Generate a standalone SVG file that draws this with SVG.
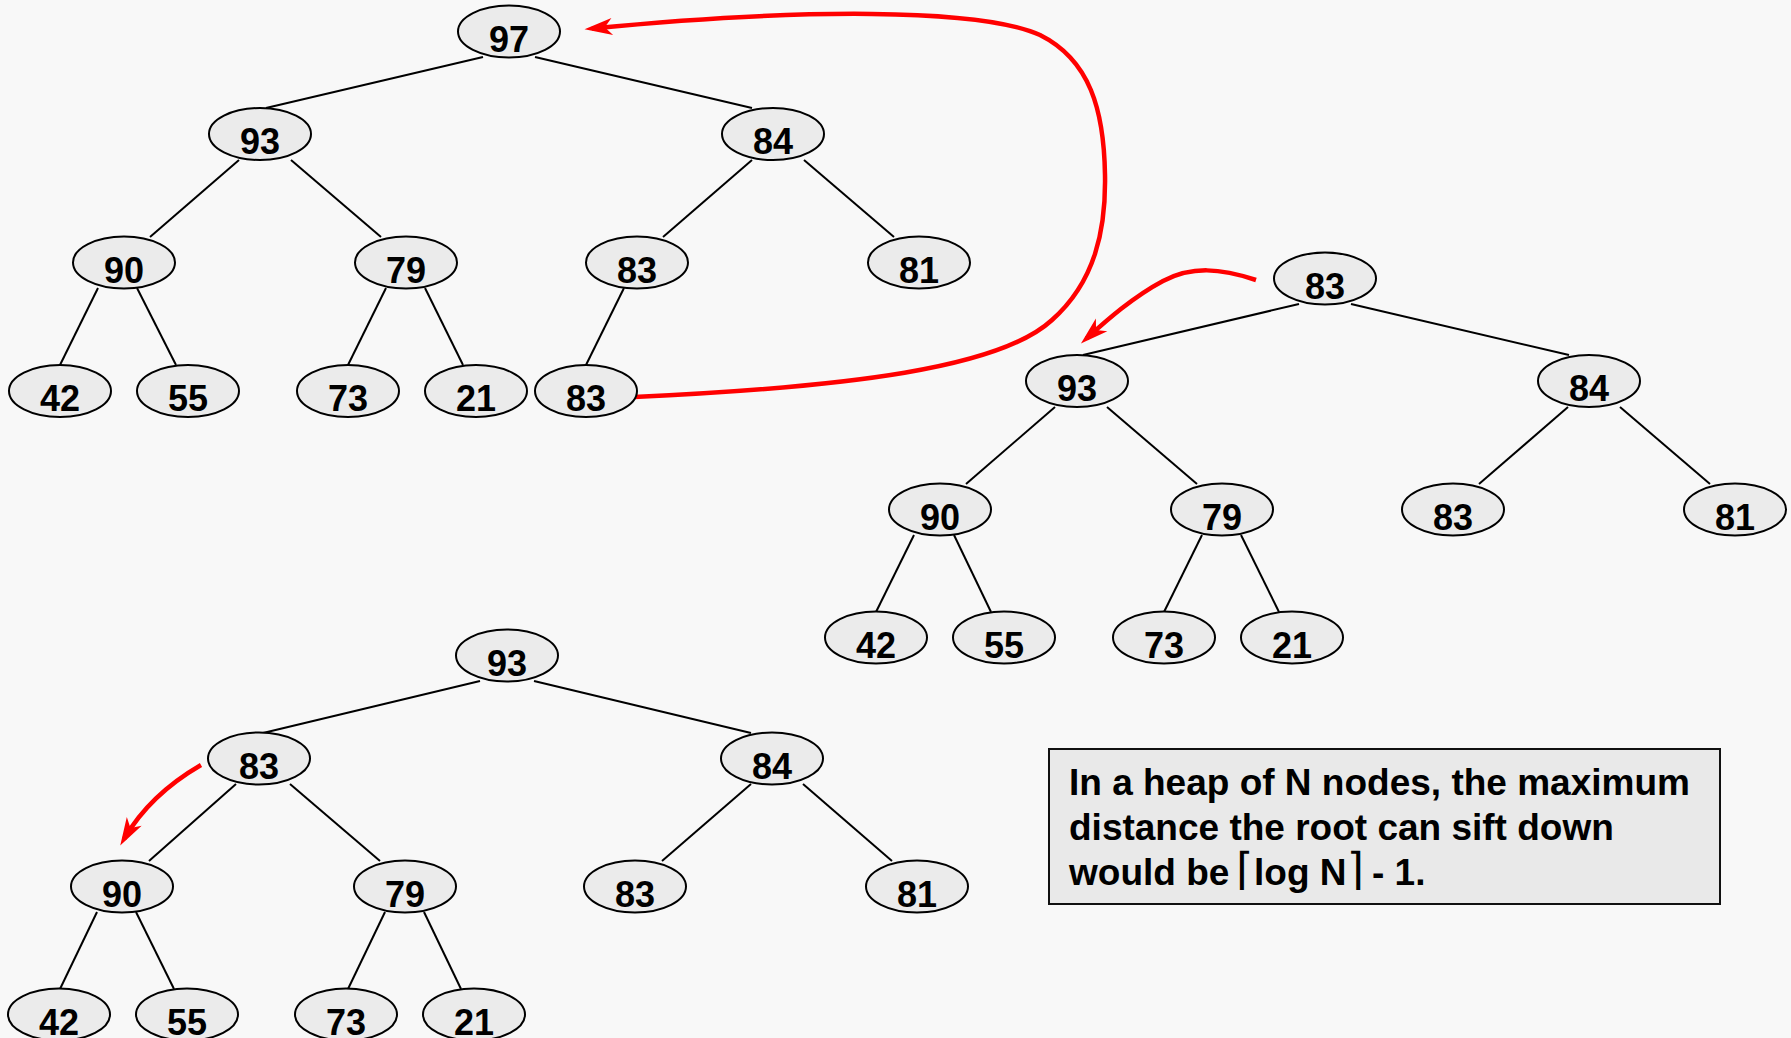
<svg xmlns="http://www.w3.org/2000/svg" width="1791" height="1038" viewBox="0 0 1791 1038">
<defs>
<style>
.n ellipse{fill:#ebebeb;stroke:#000;stroke-width:2}
.n text{font-family:"Liberation Sans",Arial,sans-serif;font-weight:bold;font-size:36px;text-anchor:middle;fill:#000}
.e line{stroke:#000;stroke-width:2}
.r{fill:none;stroke:#ff0000;stroke-width:4.5}
.box{fill:#e9e9e9;stroke:#111;stroke-width:2}
.bt{font-family:"Liberation Sans",Arial,sans-serif;font-weight:bold;font-size:37px;fill:#000}
.br{font-family:"DejaVu Sans",sans-serif;font-weight:normal;font-size:44px}
</style>
<marker id="ah" markerUnits="userSpaceOnUse" markerWidth="30" markerHeight="20" viewBox="0 0 28 18" refX="20" refY="9" orient="auto">
<path d="M1,1 L27,9 L1,17 L8,9 Z" fill="#ff0000"/>
</marker>
</defs>
<rect width="1791" height="1038" fill="#f8f8f8"/>

<g id="connectors" class="e">
<!-- tree 1 -->
<line x1="483" y1="57" x2="266" y2="108"/>
<line x1="535" y1="57" x2="752" y2="108"/>
<line x1="239" y1="160" x2="150" y2="237"/>
<line x1="291" y1="160" x2="381" y2="237"/>
<line x1="752" y1="160" x2="663" y2="237"/>
<line x1="804" y1="160" x2="894" y2="237"/>
<line x1="98" y1="288" x2="60" y2="365"/>
<line x1="137" y1="288" x2="176" y2="365"/>
<line x1="386" y1="288" x2="348" y2="365"/>
<line x1="425" y1="288" x2="463" y2="365"/>
<line x1="624" y1="288" x2="586" y2="365"/>
<!-- tree 2 -->
<line x1="1299" y1="304" x2="1083" y2="355"/>
<line x1="1351" y1="304" x2="1569" y2="355"/>
<line x1="1055" y1="407" x2="966" y2="484"/>
<line x1="1107" y1="407" x2="1197" y2="484"/>
<line x1="1568" y1="407" x2="1479" y2="484"/>
<line x1="1620" y1="407" x2="1710" y2="484"/>
<line x1="914" y1="535" x2="876" y2="612"/>
<line x1="954" y1="535" x2="991" y2="612"/>
<line x1="1202" y1="535" x2="1164" y2="612"/>
<line x1="1241" y1="535" x2="1279" y2="612"/>
<!-- tree 3 -->
<line x1="480" y1="681" x2="263" y2="733"/>
<line x1="534" y1="681" x2="751" y2="733"/>
<line x1="236" y1="784" x2="149" y2="861"/>
<line x1="290" y1="784" x2="380" y2="861"/>
<line x1="751" y1="784" x2="662" y2="861"/>
<line x1="803" y1="784" x2="892" y2="861"/>
<line x1="97" y1="912" x2="60" y2="989"/>
<line x1="136" y1="912" x2="174" y2="989"/>
<line x1="385" y1="912" x2="348" y2="989"/>
<line x1="424" y1="912" x2="461" y2="989"/>
<!-- red arrows -->
<path class="r" marker-end="url(#ah)" d="M634,397 C850,387 1000,368 1052,320 C1095,282 1106,230 1105,175 C1104,110 1090,60 1040,35 C980,8 800,8 592,28.5"/>
<path class="r" marker-end="url(#ah)" d="M1256,280 C1220,268 1192,266 1163,281 C1133,297 1107,320 1086.5,338.5"/>
<path class="r" marker-end="url(#ah)" d="M201,765 C170,783 142,808 124,839"/>
</g>

<g id="t1-97" class="n"><ellipse cx="509" cy="31.5" rx="51" ry="26"/><text x="509" y="51.5">97</text></g>
<g id="t1-93" class="n"><ellipse cx="260" cy="134" rx="51" ry="26"/><text x="260" y="154">93</text></g>
<g id="t1-84" class="n"><ellipse cx="773" cy="134" rx="51" ry="26"/><text x="773" y="154">84</text></g>
<g id="t1-90" class="n"><ellipse cx="124" cy="262.5" rx="51" ry="26"/><text x="124" y="282.5">90</text></g>
<g id="t1-79" class="n"><ellipse cx="406" cy="262.5" rx="51" ry="26"/><text x="406" y="282.5">79</text></g>
<g id="t1-83a" class="n"><ellipse cx="637" cy="262.5" rx="51" ry="26"/><text x="637" y="282.5">83</text></g>
<g id="t1-81" class="n"><ellipse cx="919" cy="262.5" rx="51" ry="26"/><text x="919" y="282.5">81</text></g>
<g id="t1-42" class="n"><ellipse cx="60" cy="391" rx="51" ry="26"/><text x="60" y="411">42</text></g>
<g id="t1-55" class="n"><ellipse cx="188" cy="391" rx="51" ry="26"/><text x="188" y="411">55</text></g>
<g id="t1-73" class="n"><ellipse cx="348" cy="391" rx="51" ry="26"/><text x="348" y="411">73</text></g>
<g id="t1-21" class="n"><ellipse cx="476" cy="391" rx="51" ry="26"/><text x="476" y="411">21</text></g>
<g id="t1-83b" class="n"><ellipse cx="586" cy="391" rx="51" ry="26"/><text x="586" y="411">83</text></g>

<g id="t2-83" class="n"><ellipse cx="1325" cy="278.5" rx="51" ry="26"/><text x="1325" y="298.5">83</text></g>
<g id="t2-93" class="n"><ellipse cx="1077" cy="381" rx="51" ry="26"/><text x="1077" y="401">93</text></g>
<g id="t2-84" class="n"><ellipse cx="1589" cy="381" rx="51" ry="26"/><text x="1589" y="401">84</text></g>
<g id="t2-90" class="n"><ellipse cx="940" cy="509.5" rx="51" ry="26"/><text x="940" y="529.5">90</text></g>
<g id="t2-79" class="n"><ellipse cx="1222" cy="509.5" rx="51" ry="26"/><text x="1222" y="529.5">79</text></g>
<g id="t2-83b" class="n"><ellipse cx="1453" cy="509.5" rx="51" ry="26"/><text x="1453" y="529.5">83</text></g>
<g id="t2-81" class="n"><ellipse cx="1735" cy="509.5" rx="51" ry="26"/><text x="1735" y="529.5">81</text></g>
<g id="t2-42" class="n"><ellipse cx="876" cy="637.5" rx="51" ry="26"/><text x="876" y="657.5">42</text></g>
<g id="t2-55" class="n"><ellipse cx="1004" cy="637.5" rx="51" ry="26"/><text x="1004" y="657.5">55</text></g>
<g id="t2-73" class="n"><ellipse cx="1164" cy="637.5" rx="51" ry="26"/><text x="1164" y="657.5">73</text></g>
<g id="t2-21" class="n"><ellipse cx="1292" cy="637.5" rx="51" ry="26"/><text x="1292" y="657.5">21</text></g>

<g id="t3-93" class="n"><ellipse cx="507" cy="655.5" rx="51" ry="26"/><text x="507" y="675.5">93</text></g>
<g id="t3-83" class="n"><ellipse cx="259" cy="758.5" rx="51" ry="26"/><text x="259" y="778.5">83</text></g>
<g id="t3-84" class="n"><ellipse cx="772" cy="758.5" rx="51" ry="26"/><text x="772" y="778.5">84</text></g>
<g id="t3-90" class="n"><ellipse cx="122" cy="886.5" rx="51" ry="26"/><text x="122" y="906.5">90</text></g>
<g id="t3-79" class="n"><ellipse cx="405" cy="886.5" rx="51" ry="26"/><text x="405" y="906.5">79</text></g>
<g id="t3-83b" class="n"><ellipse cx="635" cy="886.5" rx="51" ry="26"/><text x="635" y="906.5">83</text></g>
<g id="t3-81" class="n"><ellipse cx="917" cy="886.5" rx="51" ry="26"/><text x="917" y="906.5">81</text></g>
<g id="t3-42" class="n"><ellipse cx="59" cy="1014.5" rx="51" ry="26"/><text x="59" y="1034.5">42</text></g>
<g id="t3-55" class="n"><ellipse cx="187" cy="1014.5" rx="51" ry="26"/><text x="187" y="1034.5">55</text></g>
<g id="t3-73" class="n"><ellipse cx="346" cy="1014.5" rx="51" ry="26"/><text x="346" y="1034.5">73</text></g>
<g id="t3-21" class="n"><ellipse cx="474" cy="1014.5" rx="51" ry="26"/><text x="474" y="1034.5">21</text></g>

<g id="note">
<rect class="box" x="1049" y="749" width="671" height="155"/>
<text class="bt" x="1069" y="795">In a heap of N nodes, the maximum</text>
<text class="bt" x="1069" y="840">distance the root can sift down</text>
<text class="bt" x="1069" y="885">would be<tspan class="br" x="1236" y="884">⌈</tspan><tspan x="1254" y="885">log N</tspan><tspan class="br" x="1347" y="884">⌉</tspan><tspan x="1372" y="885">- 1.</tspan></text>
</g>
</svg>
